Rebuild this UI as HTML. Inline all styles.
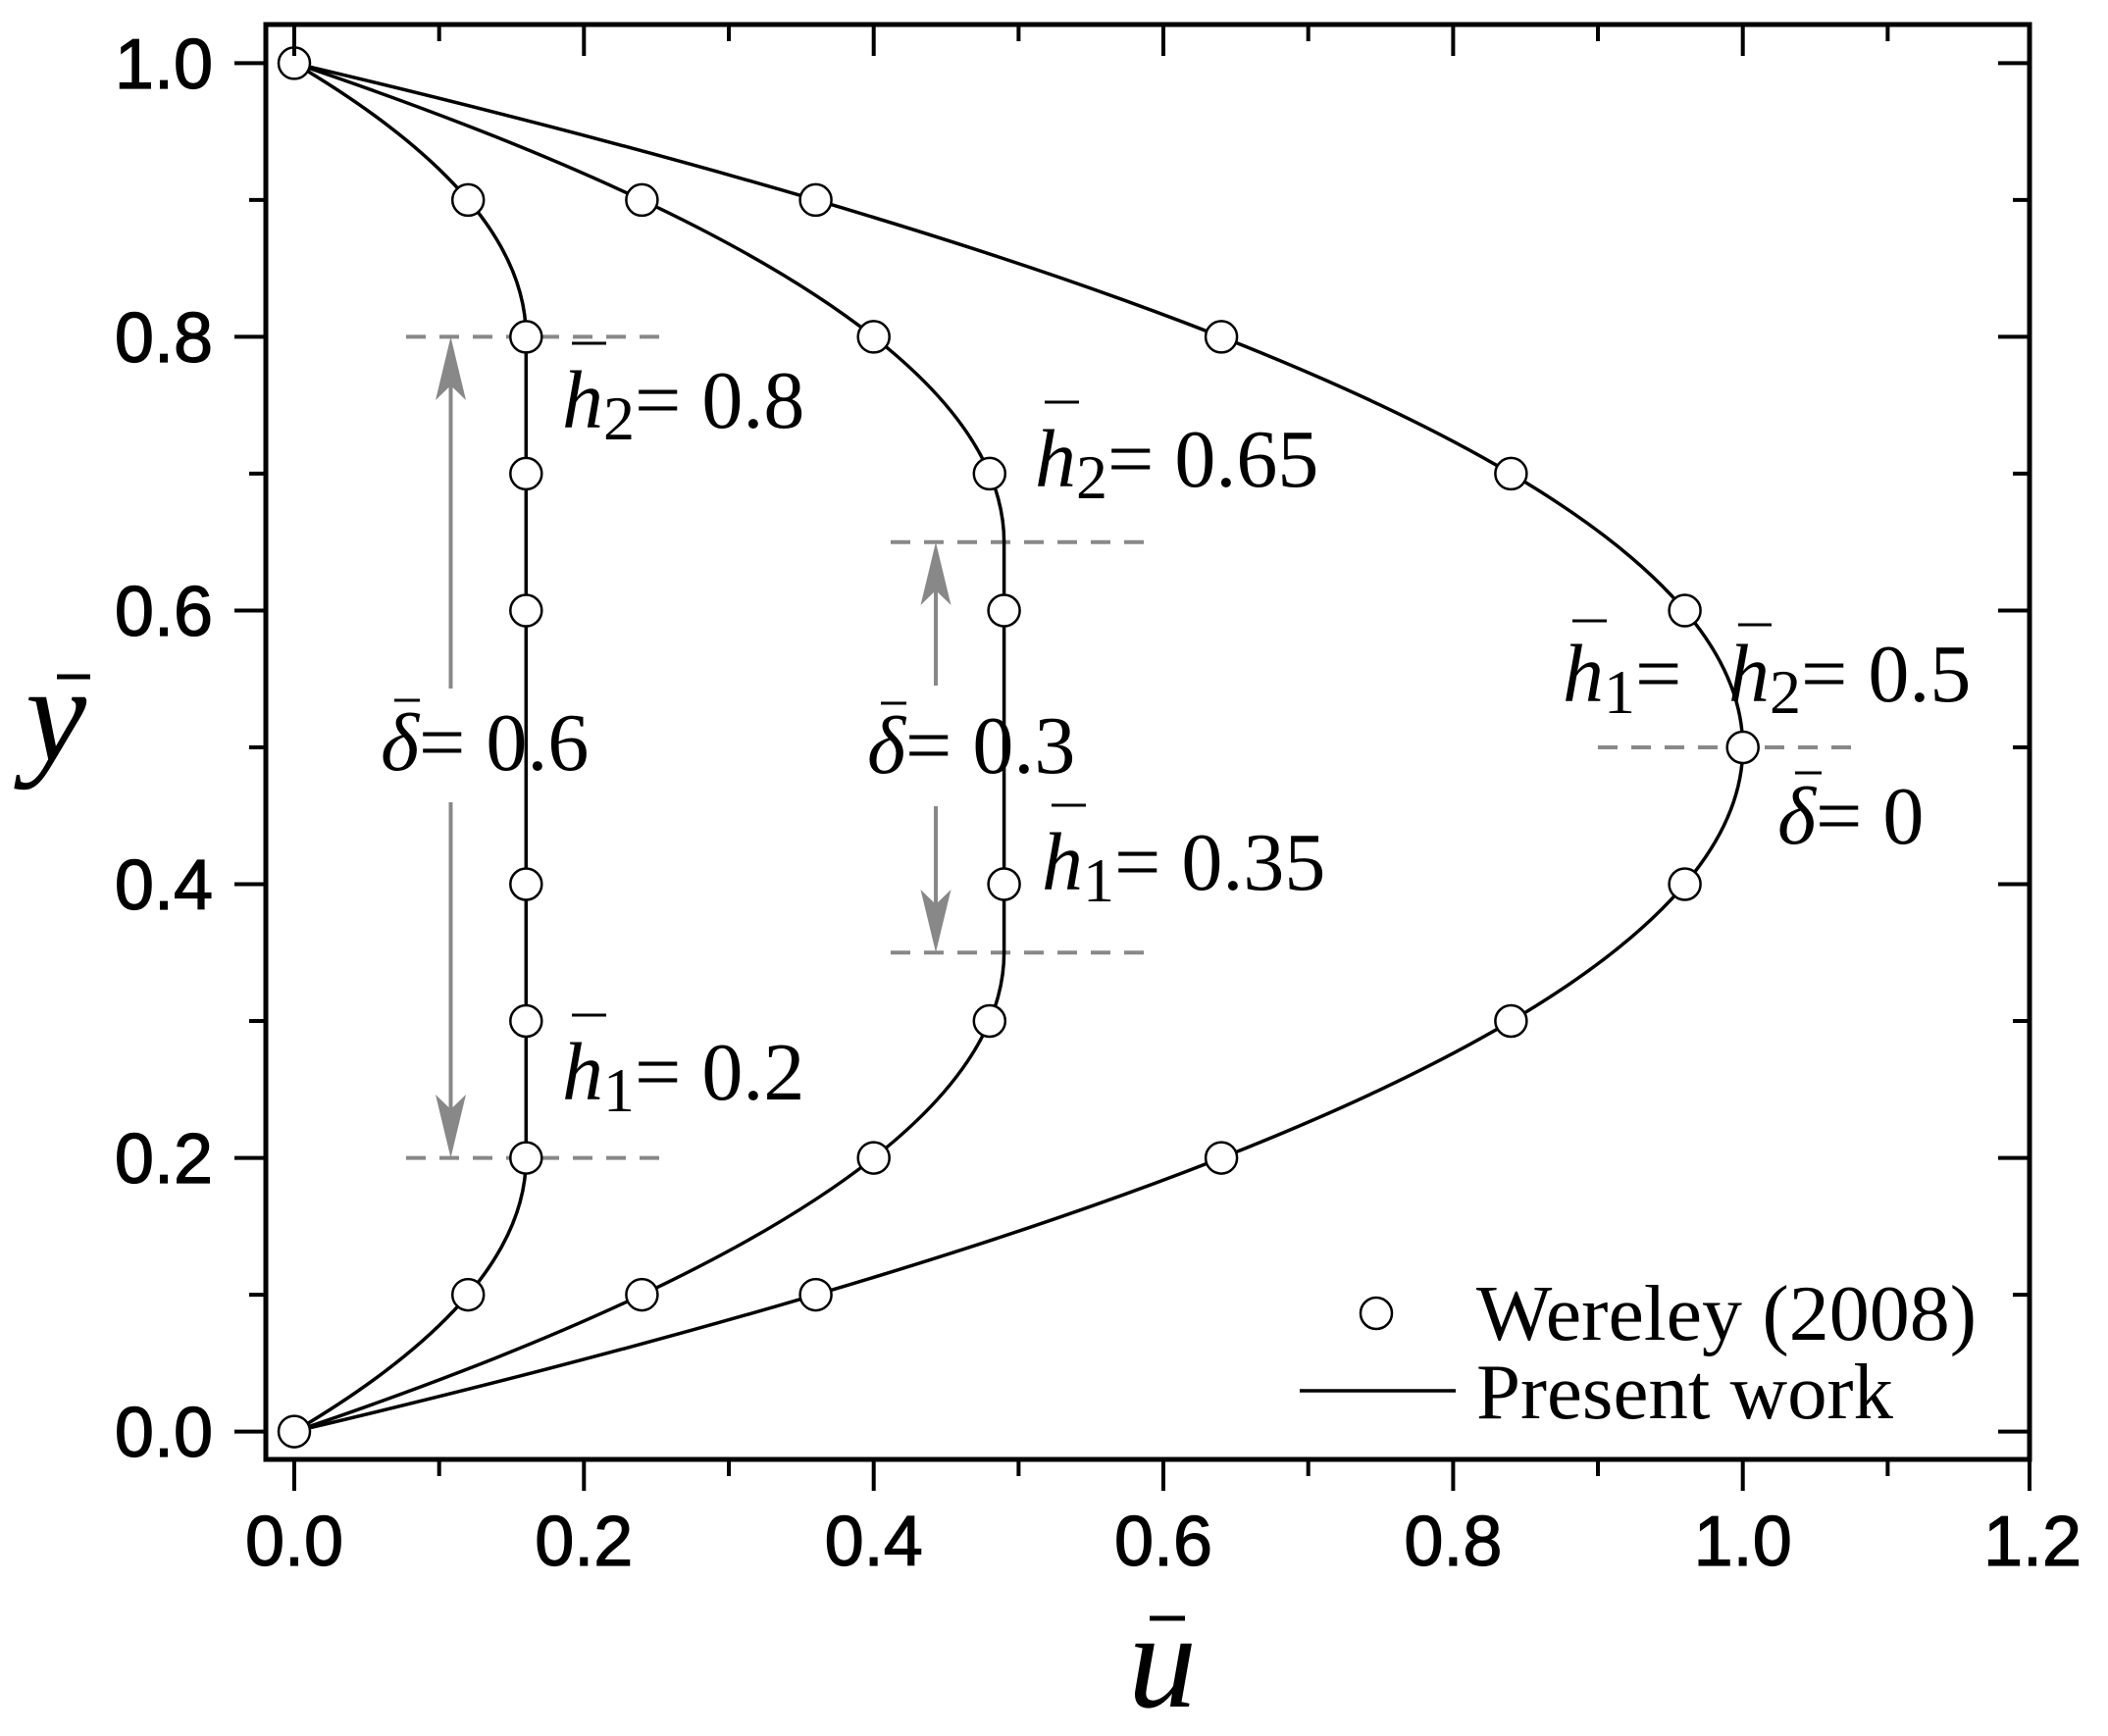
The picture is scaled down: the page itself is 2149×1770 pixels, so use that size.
<!DOCTYPE html>
<html><head><meta charset="utf-8"><style>html,body{margin:0;padding:0;background:#fff}svg{display:block}</style></head>
<body>
<svg xmlns="http://www.w3.org/2000/svg" width="2149" height="1770" viewBox="0 0 2149 1770">
<rect width="2149" height="1770" fill="#fff"/>
<g stroke="#888" stroke-width="4" stroke-dasharray="20,14" fill="none">
<line x1="414" y1="343.4" x2="680" y2="343.4"/>
<line x1="414" y1="1180.6" x2="680" y2="1180.6"/>
<line x1="908" y1="552.7" x2="1176" y2="552.7"/>
<line x1="908" y1="971.3" x2="1176" y2="971.3"/>
<line x1="1629" y1="762" x2="1898" y2="762"/>
</g>
<g stroke="#888" stroke-width="4" fill="#888">
<line x1="459.5" y1="702" x2="459.5" y2="380"/>
<line x1="459.5" y1="818" x2="459.5" y2="1145"/>
<line x1="954" y1="699" x2="954" y2="590"/>
<line x1="954" y1="822" x2="954" y2="935"/>
<polygon stroke="none" points="459.5,343.4 444,408 459.5,393 475,408"/>
<polygon stroke="none" points="459.5,1180.6 444,1116 459.5,1131 475,1116"/>
<polygon stroke="none" points="954,552.7 938.5,617 954,602 969.5,617"/>
<polygon stroke="none" points="954,971.3 938.5,907 954,922 969.5,907"/>
</g>
<g stroke="#000" stroke-width="3.5" fill="none">
<path d="M300,1459.6 Q3253.4,762 300,64.4"/>
<path d="M300,1459.6 Q1023.6,1215.4 1023.6,971.3 L1023.6,552.7 Q1023.6,308.6 300,64.4"/>
<path d="M300,1459.6 Q536.3,1320.1 536.3,1180.6 L536.3,343.4 Q536.3,203.9 300,64.4"/>
</g>
<g stroke="#000" stroke-width="2.5" fill="#fff">
<circle cx="300" cy="1459.6" r="16"/><circle cx="831.6" cy="1320.1" r="16"/><circle cx="1245.1" cy="1180.6" r="16"/><circle cx="1540.4" cy="1041" r="16"/><circle cx="1717.6" cy="901.5" r="16"/><circle cx="1776.7" cy="762" r="16"/><circle cx="1717.6" cy="622.5" r="16"/><circle cx="1540.4" cy="482.9" r="16"/><circle cx="1245.1" cy="343.4" r="16"/><circle cx="831.6" cy="203.9" r="16"/><circle cx="300" cy="64.4" r="16"/>
<circle cx="654.4" cy="1320.1" r="16"/><circle cx="890.7" cy="1180.6" r="16"/><circle cx="1008.8" cy="1041" r="16"/><circle cx="1023.6" cy="901.5" r="16"/><circle cx="1023.6" cy="622.5" r="16"/><circle cx="1008.8" cy="482.9" r="16"/><circle cx="890.7" cy="343.4" r="16"/><circle cx="654.4" cy="203.9" r="16"/>
<circle cx="477.2" cy="1320.1" r="16"/><circle cx="536.3" cy="1180.6" r="16"/><circle cx="536.3" cy="1041" r="16"/><circle cx="536.3" cy="901.5" r="16"/><circle cx="536.3" cy="622.5" r="16"/><circle cx="536.3" cy="482.9" r="16"/><circle cx="536.3" cy="343.4" r="16"/><circle cx="477.2" cy="203.9" r="16"/>
</g>
<rect x="271" y="25" width="1798" height="1463" fill="none" stroke="#000" stroke-width="5"/>
<g stroke="#000" stroke-width="4">
<path d="M300,1488v32M595.3,1488v32M890.7,1488v32M1186,1488v32M1481.4,1488v32M1776.7,1488v32M2069,1488v32"/>
<path d="M447.7,1488v17M743,1488v17M1038.4,1488v17M1333.7,1488v17M1629,1488v17M1924.4,1488v17"/>
<path d="M300,25v32M595.3,25v32M890.7,25v32M1186,25v32M1481.4,25v32M1776.7,25v32"/>
<path d="M447.7,25v17M743,25v17M1038.4,25v17M1333.7,25v17M1629,25v17M1924.4,25v17"/>
<path d="M271,1459.6h-32M271,1180.6h-32M271,901.5h-32M271,622.5h-32M271,343.4h-32M271,64.4h-32"/>
<path d="M271,1320.1h-17M271,1041h-17M271,762h-17M271,482.9h-17M271,203.9h-17"/>
<path d="M2069,1459.6h-32M2069,1180.6h-32M2069,901.5h-32M2069,622.5h-32M2069,343.4h-32M2069,64.4h-32"/>
<path d="M2069,1320.1h-17M2069,1041h-17M2069,762h-17M2069,482.9h-17M2069,203.9h-17"/>
</g>
<g font-family="Liberation Sans, sans-serif" font-size="72" fill="#000" stroke="#000" stroke-width="1.2">
<g text-anchor="middle">
<text x="300" y="1596">0.0</text><text x="595.3" y="1596">0.2</text><text x="890.7" y="1596">0.4</text><text x="1186" y="1596">0.6</text><text x="1481.4" y="1596">0.8</text><text x="1776.7" y="1596">1.0</text><text x="2072" y="1596">1.2</text>
</g>
<g text-anchor="end">
<text x="217" y="1485">0.0</text><text x="217" y="1206">0.2</text><text x="217" y="927">0.4</text><text x="217" y="648">0.6</text><text x="217" y="369">0.8</text><text x="217" y="90">1.0</text>
</g>
</g>
<g font-family="Liberation Serif, serif" font-style="italic" fill="#000">
<text x="26" y="775" font-size="140">y</text>
<line x1="58" y1="690" x2="92" y2="690" stroke="#000" stroke-width="5"/>
<text x="1150" y="1740" font-size="140">u</text>
<line x1="1172" y1="1650" x2="1208" y2="1650" stroke="#000" stroke-width="5"/>
</g>
<g font-family="Liberation Serif, serif" font-size="84" fill="#000">
<text x="573" y="436"><tspan font-style="italic">h</tspan><tspan font-size="64" dy="12">2</tspan><tspan dy="-12">= 0.8</tspan></text>
<line x1="583" y1="350" x2="618" y2="350" stroke="#000" stroke-width="3"/>
<text x="573" y="1121"><tspan font-style="italic">h</tspan><tspan font-size="64" dy="12">1</tspan><tspan dy="-12">= 0.2</tspan></text>
<line x1="583" y1="1035" x2="618" y2="1035" stroke="#000" stroke-width="3"/>
<text x="388" y="785"><tspan font-style="italic">δ</tspan><tspan>= 0.6</tspan></text>
<line x1="402" y1="714" x2="428" y2="714" stroke="#000" stroke-width="3"/>
<text x="1055" y="496"><tspan font-style="italic">h</tspan><tspan font-size="64" dy="12">2</tspan><tspan dy="-12">= 0.65</tspan></text>
<line x1="1065" y1="410" x2="1100" y2="410" stroke="#000" stroke-width="3"/>
<text x="884" y="788"><tspan font-style="italic">δ</tspan><tspan>= 0.3</tspan></text>
<line x1="898" y1="717" x2="924" y2="717" stroke="#000" stroke-width="3"/>
<text x="1062" y="907"><tspan font-style="italic">h</tspan><tspan font-size="64" dy="12">1</tspan><tspan dy="-12">= 0.35</tspan></text>
<line x1="1072" y1="821" x2="1107" y2="821" stroke="#000" stroke-width="3"/>
<text x="1593" y="715"><tspan font-style="italic">h</tspan><tspan font-size="64" dy="12">1</tspan><tspan dy="-12">= </tspan></text>
<line x1="1603" y1="633" x2="1638" y2="633" stroke="#000" stroke-width="3"/>
<text x="1762" y="715"><tspan font-style="italic">h</tspan><tspan font-size="64" dy="12">2</tspan><tspan dy="-12">= 0.5</tspan></text>
<line x1="1772" y1="637" x2="1806" y2="637" stroke="#000" stroke-width="3"/>
<text x="1812" y="860"><tspan font-style="italic">δ</tspan><tspan>= 0</tspan></text>
<line x1="1830" y1="788" x2="1857" y2="788" stroke="#000" stroke-width="3"/>
</g>
<circle cx="1403" cy="1339" r="16" fill="#fff" stroke="#000" stroke-width="2.5"/>
<line x1="1325" y1="1418" x2="1484" y2="1418" stroke="#000" stroke-width="3.5"/>
<g font-family="Liberation Serif, serif" font-size="80" fill="#000">
<text x="1505" y="1366" textLength="510" lengthAdjust="spacingAndGlyphs">Wereley (2008)</text>
<text x="1505" y="1446" textLength="425" lengthAdjust="spacingAndGlyphs">Present work</text>
</g>
</svg>
</body></html>
